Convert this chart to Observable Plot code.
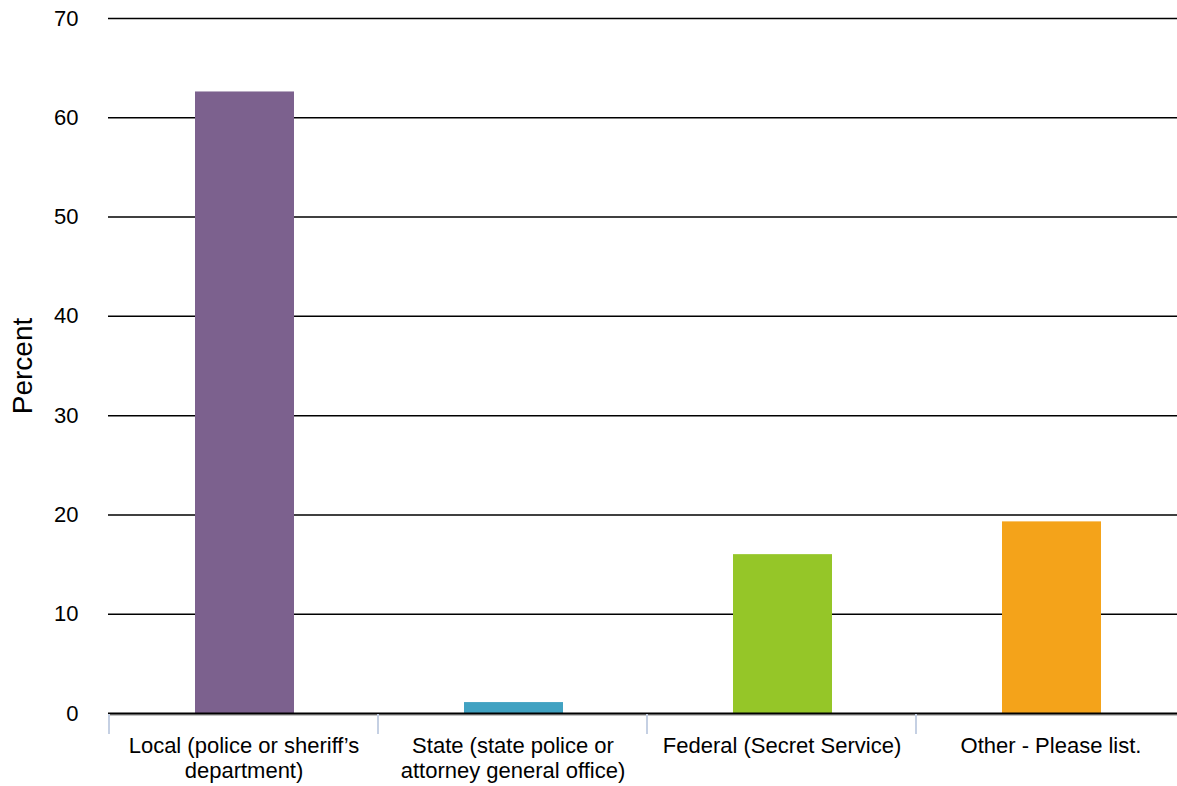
<!DOCTYPE html>
<html><head><meta charset="utf-8">
<script src="https://cdn.jsdelivr.net/npm/d3@7"></script>
<script src="https://cdn.jsdelivr.net/npm/@observablehq/plot@0.6"></script>
<style>body{margin:0;background:#fff;overflow:hidden}</style>
</head><body><div id="chart"></div>
<script>
const categories = ["Local", "State", "Federal", "Other"];
const tickLabels = [
  "Local (police or sheriff’s\ndepartment)",
  "State (state police or\nattorney general office)",
  "Federal (Secret Service)",
  "Other - Please list."
];
const values = [62.6, 1.1, 16.0, 19.3];
const colors = ["#7C618E", "#41A2C2", "#95C628", "#F4A31A"];
const yTicks = [0, 10, 20, 30, 40, 50, 60, 70];
const yLabel = "Percent";

const data = categories.map((c, i) => ({category: c, value: values[i], color: colors[i]}));
const labelOf = Object.fromEntries(categories.map((c, i) => [c, tickLabels[i]]));

const separators = (index, scales, values, dimensions) => {
  const g = d3.create("svg:g");
  const x = scales.x;
  const bw = x.bandwidth();
  const xs = categories.map(c => x(c)).concat([x(categories[categories.length - 1]) + bw]);
  const y0 = dimensions.height - dimensions.marginBottom;
  g.selectAll("line").data(xs).join("line")
    .attr("x1", d => d).attr("x2", d => d)
    .attr("y1", y0 + 1).attr("y2", y0 + 21)
    .attr("stroke", "#C5D0E3").attr("stroke-width", 2);
  return g.node();
};

const plot = Plot.plot({
  width: 1177, height: 786,
  marginLeft: 108, marginRight: -8, marginTop: 18, marginBottom: 73,
  style: {fontFamily: "'Liberation Sans', Arial, sans-serif", fontSize: "22px", color: "#000", background: "#fff", overflow: "hidden"},
  x: {domain: categories, padding: 0},
  y: {domain: [0, 70]},
  marks: [
    Plot.ruleY(yTicks.filter(t => t > 0), {stroke: "#000", strokeWidth: 1.5, strokeOpacity: 1}),
    Plot.barY(data, {x: "category", y: "value", fill: "color", insetLeft: 86, insetRight: 84}),
    Plot.ruleY([0], {stroke: "#888", strokeWidth: 1, dy: 1.5}),
    Plot.ruleY([0], {stroke: "#000", strokeWidth: 2}),
    separators,
    Plot.axisY({ticks: yTicks, tickSize: 0, tickPadding: 30, fontSize: 22, label: null}),
    Plot.axisX({tickSize: 0, tickPadding: 22, fontSize: 22, lineHeight: 1.14, tickFormat: d => labelOf[d], label: null}),
    Plot.text([yLabel], {frameAnchor: "left", dx: -85, rotate: -90, textAnchor: "middle", fontSize: 28})
  ]
});
document.getElementById("chart").appendChild(plot);
</script>
</body></html>
